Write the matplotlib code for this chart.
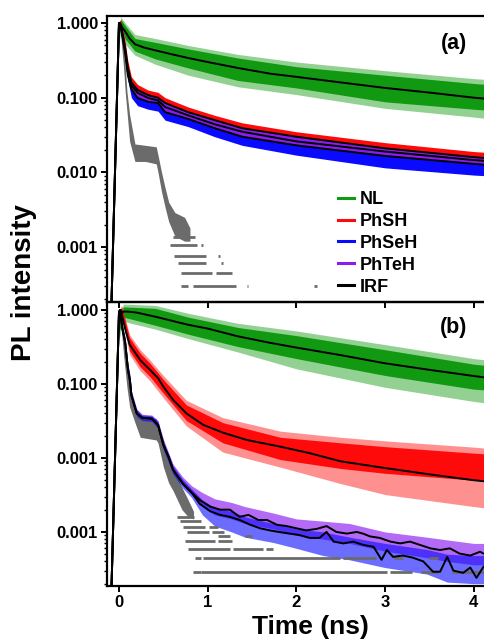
"""Time-resolved PL decays: (a) and (b) panels on a shared time axis."""

import matplotlib
matplotlib.use("Agg")
import matplotlib.pyplot as plt
from matplotlib.lines import Line2D
from matplotlib.ticker import LogLocator, NullFormatter, FixedLocator, FixedFormatter

GREEN  = "#119a11"
RED    = "#ff0a0a"
BLUE   = "#0a0aff"
PURPLE = "#8a1cf0"
GREY   = "#6b6b6b"
BLACK  = "#000000"

# ---------------------------------------------------------------- panel (a)
# NL cloud: dense core and scattered fringe
a_nl_t      = [0.0, 0.02, 0.07, 0.18, 0.41, 0.78, 1.34, 2.0, 3.0, 4.0, 4.3]
a_nl_hi     = [0.80, 1.12, 0.92, 0.62, 0.55, 0.45, 0.34, 0.26, 0.20, 0.155, 0.145]
a_nl_lo     = [0.60, 0.88, 0.61, 0.42, 0.33, 0.25, 0.17, 0.135, 0.088, 0.07, 0.066]
a_nl_hi_out = [0.85, 1.20, 1.00, 0.70, 0.62, 0.50, 0.38, 0.30, 0.23, 0.18, 0.17]
a_nl_lo_out = [0.50, 0.80, 0.52, 0.37, 0.28, 0.20, 0.14, 0.11, 0.072, 0.055, 0.05]

# PhSH / PhTeH / PhSeH clouds (nearly on top of each other)
a_mix_t   = [0.0, 0.02, 0.05, 0.07, 0.10, 0.14, 0.21, 0.33, 0.44, 0.52, 0.78, 1.08, 1.39, 2.0, 3.0, 4.0, 4.3]
a_red_hi  = [1.05, 1.10, 0.75, 0.56, 0.31, 0.19, 0.15, 0.126, 0.118, 0.10, 0.075, 0.058, 0.046, 0.035, 0.025, 0.019, 0.018]
a_blue_lo = [0.90, 0.80, 0.48, 0.33, 0.17, 0.10, 0.078, 0.07, 0.066, 0.05, 0.041, 0.030, 0.023, 0.017, 0.0115, 0.0092, 0.0088]

# fitted curves, (a)
a_fit_t     = [-0.09, 0.0, 0.02, 0.05, 0.07, 0.10, 0.14, 0.21, 0.33, 0.44, 0.52, 0.78, 1.08, 1.39, 2.0, 3.0, 4.0, 4.3]
a_fit_red   = [1e-4, 1.0, 0.95, 0.62, 0.46, 0.25, 0.16, 0.127, 0.108, 0.100, 0.085, 0.064, 0.050, 0.039, 0.030, 0.021, 0.016, 0.015]
a_fit_purp  = [1e-4, 1.0, 0.93, 0.58, 0.42, 0.22, 0.145, 0.116, 0.099, 0.092, 0.075, 0.058, 0.044, 0.035, 0.026, 0.019, 0.0146, 0.0138]
a_fit_blue  = [1e-4, 1.0, 0.90, 0.55, 0.39, 0.20, 0.13, 0.099, 0.088, 0.085, 0.064, 0.052, 0.039, 0.030, 0.023, 0.0166, 0.013, 0.0122]
a_fit_nl_t  = [-0.09, 0.0, 0.01, 0.04, 0.07, 0.12, 0.18, 0.28, 0.41, 0.6, 0.78, 1.0, 1.34, 1.7, 2.0, 2.5, 3.0, 3.5, 4.0, 4.3]
a_fit_nl    = [1e-4, 0.9, 1.0, 0.86, 0.77, 0.62, 0.52, 0.47, 0.43, 0.38, 0.34, 0.30, 0.25, 0.21, 0.19, 0.16, 0.135, 0.117, 0.10, 0.093]

# IRF cloud, (a)
a_irf_t  = [0.0, 0.01, 0.05, 0.07, 0.09, 0.12, 0.18, 0.30, 0.42, 0.44, 0.48, 0.52, 0.56, 0.63, 0.74, 0.80]
a_irf_hi = [0.9, 1.05, 0.46, 0.27, 0.12, 0.059, 0.024, 0.023, 0.022, 0.017, 0.010, 0.0062, 0.004, 0.0029, 0.0025, 0.0018]
a_irf_lo = [0.7, 0.90, 0.27, 0.12, 0.065, 0.026, 0.014, 0.014, 0.013, 0.010, 0.0055, 0.0034, 0.0022, 0.0014, 0.0012, 0.0012]
# single-count rows of the IRF: level, start, end (ns)
a_irf_rows_y  = [0.00137, 0.00105, 0.00105, 0.00077, 0.00077, 0.00061, 0.00061, 0.00045, 0.00045, 0.0003, 0.0003, 0.0003, 0.0003]
a_irf_rows_x0 = [0.61, 0.57, 0.93, 0.62, 1.12, 0.67, 1.15, 0.70, 1.09, 0.70, 0.83, 1.44, 2.20]
a_irf_rows_x1 = [0.86, 0.88, 0.95, 0.98, 1.14, 0.98, 1.17, 1.05, 1.27, 0.78, 1.32, 1.46, 2.23]

# ---------------------------------------------------------------- panel (b)
b_nl_t      = [0.0, 0.05, 0.41, 0.78, 1.34, 2.0, 3.0, 4.0, 4.3]
b_nl_hi     = [0.70, 1.10, 1.05, 0.80, 0.58, 0.45, 0.29, 0.185, 0.17]
b_nl_lo     = [0.50, 0.80, 0.62, 0.47, 0.32, 0.22, 0.13, 0.085, 0.08]
b_nl_hi_out = [0.80, 1.20, 1.15, 0.90, 0.66, 0.52, 0.34, 0.22, 0.20]
b_nl_lo_out = [0.40, 0.70, 0.55, 0.41, 0.27, 0.16, 0.09, 0.058, 0.052]
b_fit_nl_t  = [-0.09, 0.0, 0.05, 0.10, 0.20, 0.41, 0.78, 1.0, 1.34, 1.7, 2.0, 2.5, 3.0, 3.5, 4.0, 4.3]
b_fit_nl    = [1e-4, 0.85, 0.95, 0.95, 0.92, 0.81, 0.63, 0.56, 0.44, 0.36, 0.31, 0.245, 0.19, 0.155, 0.128, 0.115]

b_red_t      = [0.0, 0.03, 0.12, 0.24, 0.35, 0.5, 0.76, 1.17, 1.82, 2.5, 3.0, 4.0, 4.3]
b_red_hi     = [0.90, 1.10, 0.42, 0.26, 0.19, 0.115, 0.052, 0.030, 0.019, 0.016, 0.0142, 0.0116, 0.011]
b_red_lo     = [0.70, 0.90, 0.28, 0.17, 0.125, 0.075, 0.032, 0.016, 0.0095, 0.0072, 0.0062, 0.005, 0.0047]
b_red_hi_out = [0.95, 1.15, 0.46, 0.29, 0.21, 0.13, 0.06, 0.035, 0.023, 0.019, 0.017, 0.014, 0.013]
b_red_lo_out = [0.60, 0.80, 0.25, 0.15, 0.11, 0.065, 0.027, 0.012, 0.0075, 0.0045, 0.0032, 0.0022, 0.002]
b_fit_red_t  = [-0.09, 0.0, 0.02, 0.05, 0.08, 0.12, 0.24, 0.35, 0.44, 0.5, 0.61, 0.76, 0.95, 1.17, 1.44, 1.82, 2.15, 2.5, 3.0, 3.5, 4.0, 4.3]
b_fit_red    = [1e-4, 0.95, 1.0, 0.70, 0.50, 0.34, 0.21, 0.155, 0.12, 0.092, 0.061, 0.040, 0.028, 0.022, 0.0175, 0.0142, 0.0116, 0.009, 0.0073, 0.006, 0.005, 0.0046]

# PhSeH / PhTeH clouds, (b)
b_sete_t  = [0.0, 0.07, 0.10, 0.124, 0.14, 0.2, 0.26, 0.37, 0.44, 0.5, 0.61, 0.72, 0.82, 0.94, 1.08, 1.27, 1.42, 1.74, 2.0, 2.3, 2.6, 3.0, 3.47, 3.7, 4.0, 4.3]
b_blue_lo = [0.80, 0.30, 0.14, 0.095, 0.06, 0.036, 0.032, 0.031, 0.025, 0.013, 0.006, 0.0039, 0.0029, 0.0017, 0.0012, 0.001, 0.00085, 0.00072, 0.0006, 0.00048, 0.00042, 0.00033, 0.00027, 0.00021, 0.0002, 0.0002]
b_blue_hi = [1.00, 0.42, 0.19, 0.13, 0.08, 0.045, 0.038, 0.037, 0.031, 0.017, 0.0078, 0.0051, 0.0038, 0.0027, 0.0021, 0.0019, 0.0016, 0.0013, 0.0011, 0.001, 0.00085, 0.0007, 0.00058, 0.0005, 0.00048, 0.00048]
b_purp_lo = [0.85, 0.33, 0.15, 0.10, 0.065, 0.038, 0.033, 0.032, 0.026, 0.014, 0.0064, 0.0042, 0.0032, 0.0022, 0.0017, 0.0015, 0.0013, 0.0011, 0.0009, 0.0008, 0.0007, 0.00055, 0.00045, 0.0004, 0.00036, 0.00036]
b_purp_hi = [1.00, 0.42, 0.19, 0.13, 0.08, 0.046, 0.039, 0.038, 0.032, 0.018, 0.0082, 0.0055, 0.0042, 0.0034, 0.0028, 0.0025, 0.0022, 0.0018, 0.0015, 0.0014, 0.0013, 0.001, 0.00085, 0.00078, 0.0007, 0.0007]

b_fit_up_t = [-0.09, 0.0, 0.01, 0.04, 0.07, 0.10, 0.124, 0.14, 0.2, 0.26, 0.37, 0.44, 0.5, 0.56, 0.61, 0.72, 0.82,
              0.91, 1.03, 1.14, 1.25, 1.36, 1.46, 1.57, 1.67, 1.78, 1.89, 2.0, 2.11, 2.23, 2.34, 2.45, 2.57, 2.68, 2.75,
              2.83, 2.94, 3.06, 3.17, 3.28, 3.39, 3.51, 3.62, 3.73, 3.84, 3.96, 4.07, 4.11, 4.3]
b_fit_up   = [1e-4, 0.9, 1.0, 0.55, 0.36, 0.16, 0.11, 0.07, 0.04, 0.035, 0.034, 0.028, 0.015, 0.0103, 0.0069, 0.0045, 0.0034,
              0.0027, 0.0022, 0.0020, 0.0020, 0.0016, 0.0017, 0.00145, 0.00145, 0.00125, 0.0012, 0.00112, 0.00105, 0.0011, 0.0012, 0.001, 0.00095, 0.001, 0.00095,
              0.00087, 0.00083, 0.00074, 0.0007, 0.00074, 0.00067, 0.0006, 0.00057, 0.0006, 0.00051, 0.00048, 0.00054, 0.00051, 0.0005]
b_fit_lo_t = [-0.09, 0.0, 0.01, 0.04, 0.07, 0.10, 0.124, 0.14, 0.2, 0.26, 0.37, 0.44, 0.5, 0.56, 0.61, 0.72, 0.82,
              0.91, 1.03, 1.14, 1.25, 1.36, 1.48, 1.59, 1.7, 1.8, 1.92, 2.03, 2.15, 2.26, 2.34, 2.42, 2.53, 2.64, 2.75,
              2.87, 2.96, 3.02, 3.09, 3.2, 3.31, 3.43, 3.54, 3.62, 3.7, 3.77, 3.88, 3.96, 4.03, 4.11, 4.3]
b_fit_lo   = [1e-4, 0.9, 1.0, 0.55, 0.36, 0.16, 0.11, 0.07, 0.04, 0.035, 0.034, 0.028, 0.015, 0.0103, 0.0069, 0.0045, 0.0034,
              0.0024, 0.0019, 0.0017, 0.0016, 0.00145, 0.00125, 0.00112, 0.00105, 0.001, 0.00095, 0.00091, 0.00083, 0.00083, 0.001, 0.00074, 0.0007, 0.00074, 0.00067,
              0.00063, 0.00042, 0.00057, 0.00046, 0.00048, 0.00045, 0.0004, 0.00029, 0.00029, 0.00046, 0.0003, 0.00028, 0.00033, 0.00024, 0.00034, 0.0003]

b_irf_t  = [0.0, 0.01, 0.05, 0.09, 0.12, 0.18, 0.24, 0.42, 0.44, 0.5, 0.56, 0.61, 0.71, 0.78, 0.84]
b_irf_hi = [0.9, 1.05, 0.39, 0.17, 0.09, 0.045, 0.036, 0.034, 0.028, 0.0175, 0.0094, 0.0075, 0.004, 0.0027, 0.0019]
b_irf_lo = [0.7, 0.90, 0.26, 0.09, 0.049, 0.03, 0.019, 0.0175, 0.016, 0.0076, 0.0046, 0.0036, 0.002, 0.0016, 0.0015]
b_irf_rows_y  = [0.0016, 0.0014, 0.00118, 0.00118, 0.001, 0.001, 0.00087, 0.00087, 0.00076, 0.00076,
                 0.00059, 0.00059, 0.00059, 0.00045, 0.00045, 0.00045, 0.00045, 0.00045,
                 0.00029, 0.00029, 0.00029, 0.00029, 0.00029]
b_irf_rows_x0 = [0.65, 0.69, 0.72, 1.02, 0.77, 1.05, 1.12, 1.42, 0.74, 1.12,
                 0.78, 1.29, 1.66, 0.86, 0.95, 2.53, 3.10, 3.50,
                 0.84, 0.93, 3.06, 3.40, 3.75]
b_irf_rows_x1 = [0.85, 0.92, 0.97, 1.12, 1.02, 1.18, 1.25, 1.50, 1.08, 1.27,
                 1.25, 1.62, 1.74, 0.92, 2.49, 2.90, 3.20, 3.60,
                 0.92, 3.02, 3.30, 3.60, 4.30]

XLIM = (-0.135, 4.25)


def _style_axes(ax, ylim, ylabels, show_xlabels):
    ax.set_yscale("log")
    ax.set_xlim(*XLIM)
    ax.set_ylim(*ylim)
    ax.set_facecolor("none")
    for side in ("left", "right", "top", "bottom"):
        ax.spines[side].set_linewidth(1.6)
    ax.yaxis.set_major_locator(FixedLocator([1e-3, 1e-2, 1e-1, 1.0]))
    ax.yaxis.set_major_formatter(FixedFormatter(ylabels))
    ax.yaxis.set_minor_locator(LogLocator(base=10, subs=range(2, 10)))
    ax.yaxis.set_minor_formatter(NullFormatter())
    ax.set_xticks([0, 1, 2, 3, 4])
    if not show_xlabels:
        ax.set_xticklabels([])
    ax.tick_params(axis="both", which="major", direction="out", length=4.5, width=1.4,
                   labelsize=12, pad=2)
    ax.tick_params(axis="y", which="minor", direction="out", length=2.5, width=1.0)
    ax.tick_params(top=False, right=False)
    for lab in ax.get_xticklabels() + ax.get_yticklabels():
        lab.set_fontweight("bold")


def _band(ax, t, lo, hi, color, alpha=1.0):
    ax.fill_between(t, lo, hi, color=color, alpha=alpha, linewidth=0)


def _rows(ax, ys, x0, x1, color):
    ax.hlines(ys, x0, x1, colors=color, linewidth=2.0)


plt.rcParams["font.family"] = ["Liberation Sans", "DejaVu Sans"]
plt.rcParams["font.weight"] = "bold"

fig = plt.figure(figsize=(4.84, 6.4), dpi=100)
W, H = 484.0, 640.0
ax_a = fig.add_axes([107 / W, 1 - 302 / H, 389 / W, 286 / H])
ax_b = fig.add_axes([107 / W, 1 - 586 / H, 389 / W, 284 / H])
ax_a.set_zorder(3)

# --- (a)
ax = ax_a
_band(ax, a_nl_t, a_nl_lo_out, a_nl_hi_out, GREEN, 0.45)
_band(ax, a_nl_t, a_nl_lo, a_nl_hi, GREEN)
_band(ax, a_mix_t, a_blue_lo, a_fit_purp[1:], BLUE)
_band(ax, a_mix_t, a_fit_purp[1:], a_red_hi, RED)
_band(ax, a_mix_t, a_fit_blue[1:], a_fit_red[1:], PURPLE)
_band(ax, a_irf_t, a_irf_lo, a_irf_hi, GREY)
_rows(ax, a_irf_rows_y, a_irf_rows_x0, a_irf_rows_x1, GREY)
for yv in (a_fit_red, a_fit_purp, a_fit_blue):
    ax.plot(a_fit_t, yv, color=BLACK, linewidth=1.4, zorder=4)
ax.plot(a_fit_nl_t, a_fit_nl, color=BLACK, linewidth=1.4, zorder=4)
_style_axes(ax, (1.84e-4, 1.24), ["0.001", "0.010", "0.100", "1.000"], False)
ax.text(0.891, 0.905, "(a)", transform=ax.transAxes, ha="center", va="center",
        fontsize=15.5, fontweight="bold")

handles = [Line2D([], [], color=c, linewidth=2.2) for c in (GREEN, RED, BLUE, PURPLE, BLACK)]
leg = ax.legend(handles, ["NL", "PhSH", "PhSeH", "PhTeH", "IRF"], loc="upper left",
                bbox_to_anchor=(0.595, 0.388), frameon=False, fontsize=13,
                handlelength=0.85, handletextpad=0.35, labelspacing=0.27,
                borderpad=0, borderaxespad=0)
for txt in leg.get_texts():
    txt.set_fontweight("bold")

# --- (b)
ax = ax_b
_band(ax, b_nl_t, b_nl_lo_out, b_nl_hi_out, GREEN, 0.45)
_band(ax, b_nl_t, b_nl_lo, b_nl_hi, GREEN)
_band(ax, b_red_t, b_red_lo_out, b_red_hi_out, RED, 0.45)
_band(ax, b_red_t, b_red_lo, b_red_hi, RED)
_band(ax, b_irf_t, b_irf_lo, b_irf_hi, GREY)
_rows(ax, b_irf_rows_y, b_irf_rows_x0, b_irf_rows_x1, GREY)
_band(ax, b_sete_t, b_purp_lo, b_purp_hi, PURPLE, 0.65)
_band(ax, b_sete_t, b_blue_lo, b_blue_hi, BLUE, 0.6)
ax.plot(b_fit_nl_t, b_fit_nl, color=BLACK, linewidth=1.4, zorder=4)
ax.plot(b_fit_red_t, b_fit_red, color=BLACK, linewidth=1.4, zorder=4)
ax.plot(b_fit_up_t, b_fit_up, color=BLACK, linewidth=1.4, zorder=4)
ax.plot(b_fit_lo_t, b_fit_lo, color=BLACK, linewidth=1.4, zorder=4)
_style_axes(ax, (1.86e-4, 1.28), ["0.001", "0.001", "0.100", "1.000"], True)
ax.text(0.891, 0.91, "(b)", transform=ax.transAxes, ha="center", va="center",
        fontsize=15.5, fontweight="bold")

fig.text(24 / W, 1 - 283 / H, "PL intensity", rotation=90, ha="center", va="center",
         fontsize=20, fontweight="bold")
fig.text(310 / W, 1 - 627 / H, "Time (ns)", ha="center", va="center",
         fontsize=19, fontweight="bold")

fig.savefig("out.png", dpi=100)
